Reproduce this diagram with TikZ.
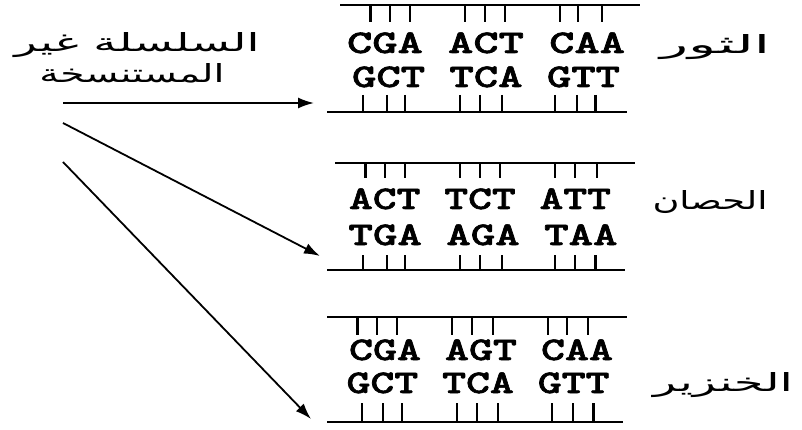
\documentclass[tikz,border=0pt]{standalone}
\usepackage{fontspec}
\usepackage{graphicx}
\usetikzlibrary{arrows.meta}
\TeXXeTstate=1
\newfontfamily\arabicfont[Script=Arabic]{DejaVu Sans}
\newfontfamily\dnafont{lmmonolt10-bold.otf}[FakeBold=1.6]
\newcommand{\dnarow}[2]{\resizebox{#1pt}{\height}{#2}}
\tikzset{
  strand/.style={line width=1.5pt},
  bond/.style={line width=1.4pt},
  bondb/.style={line width=3pt},
  dna/.style={font=\dnafont\fontsize{33}{33}\selectfont, inner sep=0pt, text height=20pt, text depth=0pt},
  arab/.style={font=\arabicfont\fontsize{25}{28}\selectfont, inner sep=0pt},
  arr/.style={line width=1.8pt, -{Latex[length=16pt,width=11pt]}}
}
\begin{document}
\begin{tikzpicture}[x=1pt,y=-1pt]
\useasboundingbox (0,0) rectangle (802,430);
\fill[white] (0,0) rectangle (802,430);
% source label
\node[arab] (src1) at (137,45) {\resizebox{245pt}{\height}{\beginR السلسلة غير\endR}};
\node[arab] (src2) at (132,73) {\resizebox{185pt}{\height}{\beginR المستنسخة\endR}};
% species labels
\node[arab] (bull) at (715,47) {\resizebox{110pt}{\height}{\beginR الثور\endR}};
\node[arab] (horse) at (710,202) {\resizebox{115pt}{\height}{\beginR الحصان\endR}};
\node[arab] (pig) at (723,385) {\resizebox{140pt}{\height}{\beginR الخنزير\endR}};
% block 1
\draw[strand] (340,5) -- (640,5);
\draw[strand] (327,112) -- (627,112);
\foreach \x in {390,410,465,485,505,560,578,602} \draw[bond] (\x,5) -- (\x,22);
\draw[bondb] (370,5) -- (370,22);
\foreach \x in {363,387,405,460,480,502,555,577} \draw[bond] (\x,95) -- (\x,112);
\draw[bondb] (595,95) -- (595,112);
\node[dna] (b1r1) at (486,43) {\dnarow{278}{CGA ACT CAA}};
\node[dna] (b1r2) at (486,77) {\dnarow{268}{GCT TCA GTT}};
% block 2
\draw[strand] (335,163) -- (635,163);
\draw[strand] (327,270) -- (625,270);
\foreach \x in {385,405,460,480,500,555,575,597} \draw[bond] (\x,163) -- (\x,178);
\draw[bondb] (365,163) -- (365,178);
\foreach \x in {363,387,405,460,480,502,555,575} \draw[bond] (\x,255) -- (\x,270);
\draw[bondb] (595,255) -- (595,270);
\node[dna] (b2r1) at (480,199) {\dnarow{262}{ACT TCT ATT}};
\node[dna] (b2r2) at (483,235) {\dnarow{269}{TGA AGA TAA}};
% block 3
\draw[strand] (327,317) -- (627,317);
\draw[strand] (327,422) -- (623,422);
\foreach \x in {377,397,452,472,493,548,567,588} \draw[bond] (\x,317) -- (\x,335);
\draw[bondb] (357,317) -- (357,335);
\foreach \x in {362,383,402,457,477,498,552,573} \draw[bond] (\x,403) -- (\x,422);
\draw[bondb] (593,403) -- (593,422);
\node[dna] (b3r1) at (481,350) {\dnarow{264}{CGA AGT CAA}};
\node[dna] (b3r2) at (478,383) {\dnarow{263}{GCT TCA GTT}};
% arrows
\coordinate (s1) at (63,103);
\coordinate (t1) at (314,103);
\coordinate (s2) at (63,123);
\coordinate (t2) at (320,256);
\coordinate (s3) at (63,162);
\coordinate (t3) at (311,419);
\draw[arr] (s1) -- (t1);
\draw[arr] (s2) -- (t2);
\draw[arr] (s3) -- (t3);
\end{tikzpicture}
\end{document}
